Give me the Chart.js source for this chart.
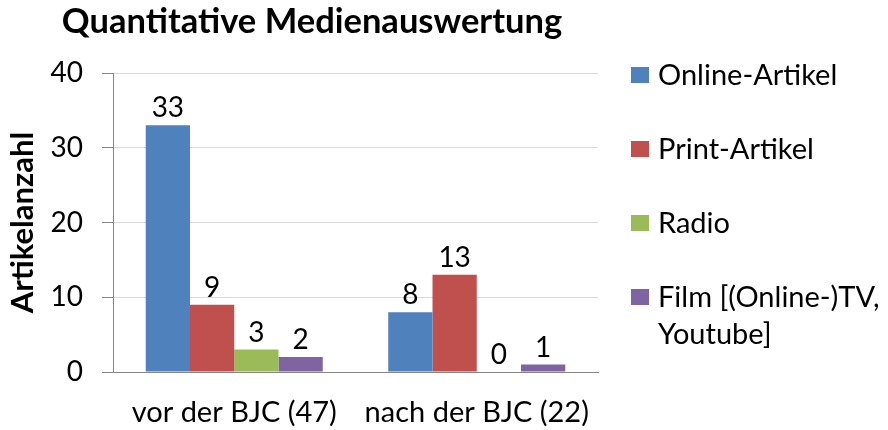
<!DOCTYPE html>
<html>
<head>
<meta charset="utf-8">
<script src="https://cdn.jsdelivr.net/npm/chart.js@4.4.1/dist/chart.umd.min.js"></script>
<style>
  body { margin: 0; background: #fff; }
  #wrap { width: 888px; height: 430px; }
</style>
</head>
<body>
<div id="wrap"><canvas id="myChart" width="888" height="430"></canvas></div>
<script>
var categories = ['vor der BJC (47)', 'nach der BJC (22)'];
var onlineArtikel = [33, 8];
var printArtikel = [9, 13];
var radio = [3, 0];
var film = [2, 1];
var seriesLabels = ['Online-Artikel', 'Print-Artikel', 'Radio', ['Film [(Online-)TV,', 'Youtube]']];
var yTicks = [0, 10, 20, 30, 40];

var titleText = 'Quantitative Medienauswertung';
var FONT = 'Lato';
var TEXT_SIZE = 28;
var colors = ['#4F81BD', '#C0504D', '#9BBB59', '#8064A2'];

// title, legend and value labels drawn on the canvas
var extras = {
    id: 'extras',
    afterDatasetsDraw: function(chart){
        var ctx = chart.ctx;
        ctx.save();
        ctx.fillStyle = '#000';
        ctx.font = TEXT_SIZE + 'px ' + FONT;
        ctx.textAlign = 'center';
        ctx.textBaseline = 'bottom';
        chart.data.datasets.forEach(function(ds, i){
            chart.getDatasetMeta(i).data.forEach(function(bar, j){
                ctx.fillText(String(ds.data[j]), bar.x, bar.y - 3);
            });
        });
        ctx.restore();
    },
    afterDraw: function(chart){
        var ctx = chart.ctx;
        var area = chart.chartArea;
        ctx.save();
        ctx.fillStyle = '#000';
        ctx.font = 'bold 34.5px ' + FONT;
        ctx.textAlign = 'center';
        ctx.textBaseline = 'middle';
        ctx.fillText(titleText, 312, 22);

        ctx.font = '29px ' + FONT;
        ctx.textAlign = 'left';
        var step = (area.bottom - area.top) / 4;
        chart.data.datasets.forEach(function(ds, i){
            var y = area.top + 2 + i * step * 0.99;
            ctx.fillStyle = ds.backgroundColor;
            ctx.fillRect(631, y - 8, 18, 16);
            ctx.fillStyle = '#000';
            var lines = [].concat(seriesLabels[i]);
            for (var k = 0; k < lines.length; k++) {
                ctx.fillText(lines[k], 658, y + 1 + k * 37);
            }
        });
        ctx.restore();
    }
};

var ctx = document.getElementById('myChart').getContext('2d');
var myChart = new Chart(ctx, {
    type: 'bar',
    data: {
        labels: categories,
        datasets: [
            { label: 'Online-Artikel', data: onlineArtikel, backgroundColor: colors[0] },
            { label: 'Print-Artikel', data: printArtikel, backgroundColor: colors[1] },
            { label: 'Radio', data: radio, backgroundColor: colors[2] },
            { label: 'Film [(Online-)TV, Youtube]', data: film, backgroundColor: colors[3] }
        ]
    },
    options: {
        responsive: false,
        animation: false,
        layout: { padding: { left: 4, right: 290, top: 73, bottom: 0 } },
        datasets: { bar: { categoryPercentage: 0.73, barPercentage: 1 } },
        plugins: {
            legend: { display: false },
            title: { display: false },
            tooltip: { enabled: false }
        },
        scales: {
            x: {
                grid: { display: false },
                border: { color: '#868686', width: 1 },
                ticks: { color: '#000', font: { family: FONT, size: 29 }, padding: 15, maxRotation: 0 },
                afterFit: function(scale){ scale.height = 58; }
            },
            y: {
                min: 0,
                max: 40,
                afterBuildTicks: function(scale){
                    scale.ticks = yTicks.map(function(v){ return { value: v }; });
                },
                grid: { color: '#D9D9D9', tickColor: '#868686', tickLength: 11 },
                border: { color: '#868686', width: 1 },
                ticks: { color: '#000', font: { family: FONT, size: TEXT_SIZE }, padding: 19 },
                title: {
                    display: true,
                    text: 'Artikelanzahl',
                    color: '#000',
                    font: { family: FONT, size: 31, weight: 'bold' },
                    padding: { top: 0, bottom: 6 }
                },
                afterFit: function(scale){ scale.width = 109; }
            }
        }
    },
    plugins: [extras]
});
</script>
</body>
</html>
